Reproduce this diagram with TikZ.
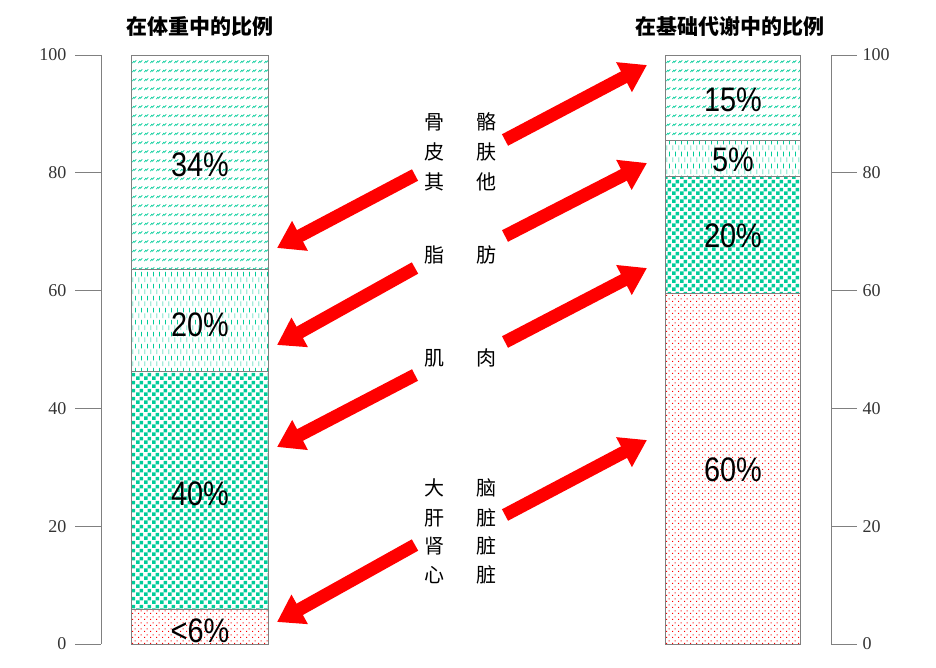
\documentclass[tikz,border=0pt]{standalone}
\usepackage{fontspec}
\setmainfont{Liberation Sans}
\newfontfamily\cjk{Noto Sans CJK SC}
\usetikzlibrary{patterns,patterns.meta,arrows.meta}
\definecolor{tg}{RGB}{0,204,153}
\tikzdeclarepattern{name=zig,type=uncolored,bounding box={(0,0) and (6pt,9pt)},tile size={(6pt,9pt)},
  code={\draw[line width=0.8pt] (0.5pt,1pt)--(2pt,3pt)--(3pt,2pt)--(5pt,4pt);}}
\tikzdeclarepattern{name=vdash,type=uncolored,bounding box={(0,0) and (6pt,12pt)},tile size={(6pt,12pt)},
  code={\draw[line width=0.8pt] (1pt,1pt)--(1pt,6pt); \draw[line width=0.8pt] (4pt,7pt)--(4pt,12pt);}}
\tikzdeclarepattern{name=chk,type=uncolored,bounding box={(0,0) and (8pt,8pt)},tile size={(8pt,8pt)},
  code={\fill (0,0) rectangle (4pt,4pt); \fill (4pt,4pt) rectangle (8pt,8pt);}}
\tikzdeclarepattern{name=dts,type=uncolored,bounding box={(0,0) and (6pt,6pt)},tile size={(6pt,6pt)},
  code={\fill (0,0) rectangle (1.2pt,1.2pt); \fill (3pt,3pt) rectangle (4.2pt,4.2pt);}}
\begin{document}
\begin{tikzpicture}[x=1pt,y=-1pt,
  seg/.style={draw=gray,line width=0.8pt},
  pct/.style={font=\fontsize{34}{34}\selectfont,xscale=0.85},
  lab/.style={font=\cjk\fontsize{20}{20}\selectfont},
  ttl/.style={font=\cjk\bfseries\fontsize{21}{21}\selectfont},
  tk/.style={font=\fontsize{18}{18}\selectfont\rmfamily, text=black!80},
  arr/.style={red,line width=13pt,-{Triangle[length=26pt,width=32pt]}},
  ax/.style={draw=gray,line width=0.8pt}]
\useasboundingbox (0,0) rectangle (936,667);
\setmainfont{Liberation Serif}
% axes
\draw[ax] (101,55)--(101,644);
\draw[ax] (831,55)--(831,644);
\foreach \v in {0,20,...,100}{
  \pgfmathsetmacro\yy{644-5.89*\v}
  \draw[ax] (75,\yy)--(101,\yy);
  \node[tk,anchor=east] (l\v) at (70,\yy) {\v};
  \draw[ax] (831,\yy)--(857,\yy);
  \node[tk,anchor=west] (r\v) at (859,\yy) {\v};
}
\setmainfont{Liberation Sans}
% left bar
\fill[pattern={zig},pattern color=tg] (131,55) rectangle (268,269);
\fill[pattern={vdash},pattern color=tg] (131,269) rectangle (268,371);
\fill[pattern={chk},pattern color=tg] (131,371) rectangle (268,609);
\fill[pattern={dts},pattern color=red] (131,609) rectangle (268,644);
\foreach \a/\b in {55/269,269/371,371/609,609/644} \draw[seg] (131,\a) rectangle (268,\b);
% right bar
\fill[pattern={zig},pattern color=tg] (665,55) rectangle (800,140);
\fill[pattern={vdash},pattern color=tg] (665,140) rectangle (800,176);
\fill[pattern={chk},pattern color=tg] (665,176) rectangle (800,293);
\fill[pattern={dts},pattern color=red] (665,293) rectangle (800,644);
\foreach \a/\b in {55/140,140/176,176/293,293/644} \draw[seg] (665,\a) rectangle (800,\b);
% percentages
\node[pct] (p1) at (200,165) {34\%};
\node[pct] (p2) at (200,325) {20\%};
\node[pct] (p3) at (200,494) {40\%};
\node[pct] (p4) at (200,631) {<6\%};
\node[pct] (q1) at (733,100) {15\%};
\node[pct] (q2) at (733,160) {5\%};
\node[pct] (q3) at (733,236) {20\%};
\node[pct] (q4) at (733,470) {60\%};
% titles
\node[ttl] (t1) at (200,27) {在体重中的比例};
\node[ttl] (t2) at (730,27) {在基础代谢中的比例};
% labels
\foreach \n/\a/\b/\y in {a/骨/骼/122,b/皮/肤/152,c/其/他/182,d/脂/肪/255,e/肌/肉/358,f/大/脑/488,g/肝/脏/518,h/肾/脏/546,i/心/脏/575}{
  \node[lab] (x\n) at (434,\y) {\a};
  \node[lab] (y\n) at (486,\y) {\b};
}
% arrows
\foreach \n/\ys/\ye in {1/175/248,2/268/345,3/375/447,4/545/622}{
  \coordinate (ls\n) at (415,\ys); \coordinate (le\n) at (277,\ye);
  \draw[arr] (ls\n)--(le\n);
}
\foreach \n/\ys/\ye in {1/140/65,2/236/163,3/342/268,4/515/440}{
  \coordinate (rs\n) at (505,\ys); \coordinate (re\n) at (647,\ye);
  \draw[arr] (rs\n)--(re\n);
}
\end{tikzpicture}
\end{document}
